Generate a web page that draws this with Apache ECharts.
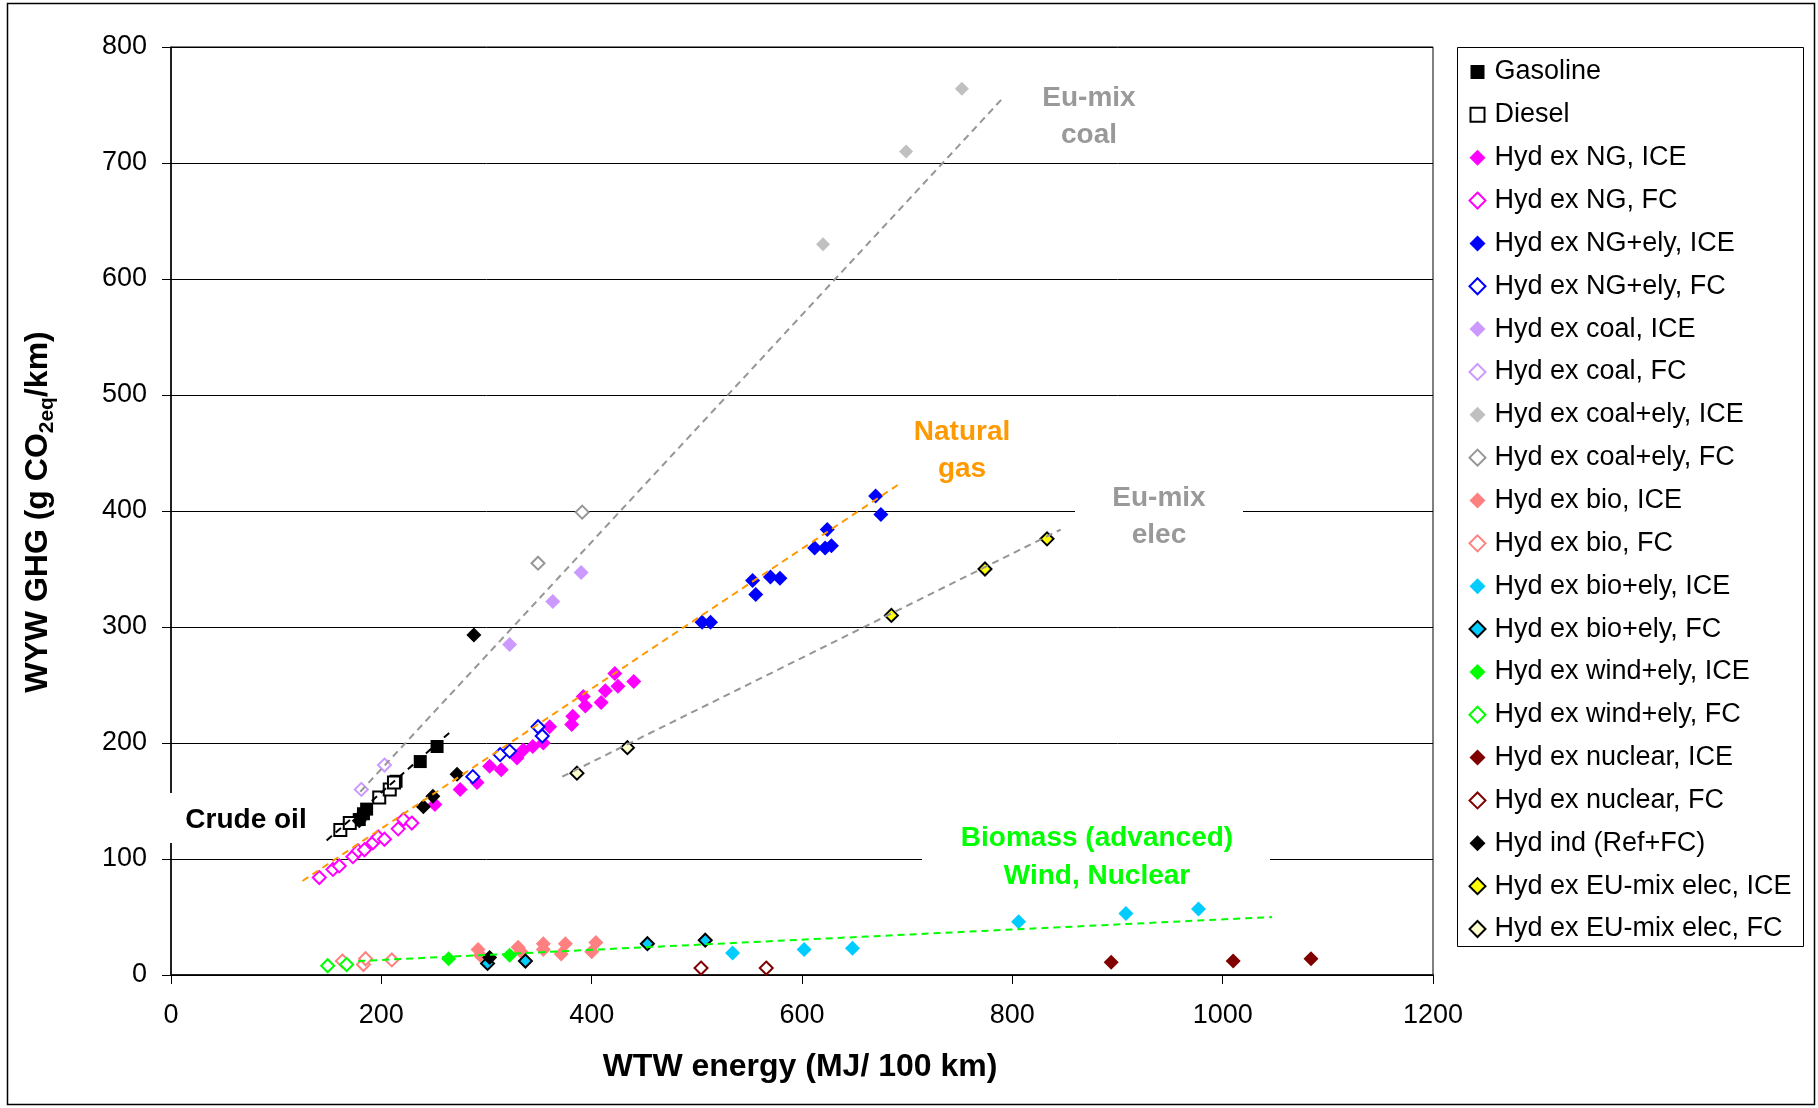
<!DOCTYPE html>
<html><head><meta charset="utf-8">
<script src="https://cdn.jsdelivr.net/npm/echarts@6/dist/echarts.min.js"></script>
<style>html,body{margin:0;padding:0;background:#fff}#c{width:1818px;height:1108px}</style>
</head><body><div id="c"></div>
<script>
// ---- data (x = WTW energy MJ/100km, y = GHG g CO2eq/km) ----
const gasoline   = [[253,197],[237,184],[214,167],[186,143],[183,139],[179,134]];
const diesel     = [[161,125],[170,131],[198,153],[208,160],[212,166]];
const ngIce      = [[251,147],[275,160],[291,166],[303,180],[314,177],[329,187],[335,194],[344,197],[354,200],[360,214],[381,216],[382,223],[394,232],[392,240],[409,235],[413,245],[422,260],[425,249],[440,253]];
const ngFc       = [[141,84],[154,91],[160,94],[173,102],[178,107],[184,108],[192,114],[197,119],[203,117],[216,126],[221,134],[229,131]];
const ngElyIce   = [[505,304],[513,304],[553,340],[556,328],[570,343],[579,342],[612,368],[622,368],[628,370],[624,384],[670,413],[675,397]];
const ngElyFc    = [[287,171],[313,190],[322,193],[349,214],[353,206]];
const coalIce    = [[322,285],[363,322],[390,347]];
const coalFc     = [[181,160],[203,181]];
const coalElyIce = [[620,630],[699,710],[752,764]];
const coalElyFc  = [[349,355],[391,399]];
const bioIce     = [[292,22],[294,17],[330,24],[333,20],[354,27],[354,22],[371,18],[375,27],[400,20],[404,28]];
const bioFc      = [[163,12],[183,9],[185,14],[210,13]];
const bioElyIce  = [[534,19],[602,22],[648,23],[806,46],[908,53],[977,57]];
const bioElyFc   = [[301,10],[337,12],[453,27],[508,30]];
const windIce    = [[264,14],[322,17]];
const windFc     = [[149,8],[167,9]];
const nuclearIce = [[894,11],[1010,12],[1084,14]];
const nuclearFc  = [[504,6],[566,6]];
const hydInd     = [[288,293],[272,173],[249,154],[240,145],[179,133],[303,15]];
const euIce      = [[685,310],[774,350],[833,376]];
const euFc       = [[386,174],[434,196]];

// trend lines (endpoints in data units)
const crudeLine = [[148,116],[265,209]];
const coalLine  = [[180,158],[792,757]];
const ngLine    = [[125,81],[692,423]];
const elecLine  = [[372,171],[846,384]];
const bioLine   = [[178,12],[1047,50]];

// axes
const xMin = 0, xMax = 1200, xStep = 200;
const yMin = 0, yMax = 800, yStep = 100;

// text
const xTitle = 'WTW energy (MJ/ 100 km)';
const yTitleMain1 = 'WYW GHG (g CO', yTitleSub = '2eq', yTitleMain2 = '/km)';
const annCrude = 'Crude oil';
const annCoal = 'Eu-mix\ncoal';
const annGas = 'Natural\ngas';
const annElec = 'Eu-mix\nelec';
const annBio = 'Biomass (advanced)\nWind, Nuclear';

const FONT = '"Liberation Sans", Arial, sans-serif';
// legend icon for squares: 14px square centred in a 16px box
const SQUARE_ICON = 'path://M0,0M16,16M1,1L15,1L15,15L1,15Z';

function sc(name, data, symbol, size, fill, border, bw) {
  return {
    type: 'scatter', name: name, data: data, symbol: symbol, symbolSize: size, z: 2,
    itemStyle: { color: fill, borderColor: border || fill, borderWidth: bw || 0, opacity: 1 },
    emphasis: { disabled: true }
  };
}
function tl(data, color) {
  return {
    type: 'line', data: data, symbol: 'none', silent: true, z: 3,
    lineStyle: { color: color, width: 2, type: [7, 5] }, emphasis: { disabled: true }
  };
}

const scatterSeries = [
  sc('Gasoline', gasoline, 'rect', 13, '#000000'),
  sc('Diesel', diesel, 'rect', 12, '#ffffff', '#000000', 2),
  sc('Hyd ex NG, ICE', ngIce, 'diamond', 15, '#ff00ff'),
  sc('Hyd ex NG, FC', ngFc, 'diamond', 13, '#ffffff', '#ff00ff', 2),
  sc('Hyd ex NG+ely, ICE', ngElyIce, 'diamond', 15, '#0000ff'),
  sc('Hyd ex NG+ely, FC', ngElyFc, 'diamond', 13, '#ffffff', '#0000ff', 2),
  sc('Hyd ex coal, ICE', coalIce, 'diamond', 15, '#cc99ff'),
  sc('Hyd ex coal, FC', coalFc, 'diamond', 13, '#ffffff', '#cc99ff', 2),
  sc('Hyd ex coal+ely, ICE', coalElyIce, 'diamond', 14, '#c0c0c0'),
  sc('Hyd ex coal+ely, FC', coalElyFc, 'diamond', 13, '#ffffff', '#969696', 2),
  sc('Hyd ex bio, ICE', bioIce, 'diamond', 15, '#ff8080'),
  sc('Hyd ex bio, FC', bioFc, 'diamond', 13, '#ffffff', '#ff8080', 2),
  sc('Hyd ex bio+ely, ICE', bioElyIce, 'diamond', 15, '#00ccff'),
  sc('Hyd ex bio+ely, FC', bioElyFc, 'diamond', 13, '#00ccff', '#000000', 2),
  sc('Hyd ex wind+ely, ICE', windIce, 'diamond', 15, '#00ff00'),
  sc('Hyd ex wind+ely, FC', windFc, 'diamond', 13, '#ffffff', '#00ff00', 2),
  sc('Hyd ex nuclear, ICE', nuclearIce, 'diamond', 15, '#800000'),
  sc('Hyd ex nuclear, FC', nuclearFc, 'diamond', 13, '#ffffff', '#800000', 2),
  sc('Hyd ind (Ref+FC)', hydInd, 'diamond', 15, '#000000'),
  sc('Hyd ex EU-mix elec, ICE', euIce, 'diamond', 13, '#ffff00', '#000000', 2),
  sc('Hyd ex EU-mix elec, FC', euFc, 'diamond', 13, '#ffffcc', '#000000', 2)
];
const lineSeries = [
  tl(crudeLine, '#000000'),
  tl(coalLine, '#969696'),
  tl(ngLine, '#ff9900'),
  tl(elecLine, '#969696'),
  tl(bioLine, '#00ff00')
];

const chart = echarts.init(document.getElementById('c'), null, { renderer: 'canvas' });

const annFont = { fontFamily: FONT, fontWeight: 'bold', fontSize: 28 };
function txt(x, y, text, color, lh) {
  return { type: 'text', x: x, y: y, z: 5, silent: true,
    style: Object.assign({ text: text, fill: color, align: 'center', verticalAlign: 'middle', lineHeight: lh || 37 }, annFont) };
}
function wrect(x, y, w, h) {
  return { type: 'rect', z: 1, silent: true, shape: { x: x, y: y, width: w, height: h }, style: { fill: '#ffffff' } };
}

const legendData = scatterSeries.map(s => (s.symbol === 'rect' ? { name: s.name, icon: SQUARE_ICON } : { name: s.name }));

chart.setOption({
  animation: false,
  backgroundColor: '#ffffff',
  grid: { left: 171, right: 385, top: 47, bottom: 133, show: true, borderColor: '#000', borderWidth: 1, containLabel: false },
  xAxis: {
    type: 'value', min: xMin, max: xMax, interval: xStep,
    axisLine: { show: true, lineStyle: { color: '#000', width: 1.5 } },
    axisTick: { show: true, inside: false, length: 9, lineStyle: { color: '#000', width: 1 } },
    axisLabel: { color: '#000', fontSize: 27, fontFamily: FONT, margin: 27, formatter: v => String(v) },
    splitLine: { show: false }
  },
  yAxis: {
    type: 'value', min: yMin, max: yMax, interval: yStep,
    axisLine: { show: true, lineStyle: { color: '#000', width: 1.5 } },
    axisTick: { show: true, inside: false, length: 9, lineStyle: { color: '#000', width: 1 } },
    axisLabel: { color: '#000', fontSize: 27, fontFamily: FONT, margin: 24, formatter: v => String(v) },
    splitLine: { show: true, lineStyle: { color: '#000', width: 1 } }
  },
  legend: {
    data: legendData,
    orient: 'vertical', left: 1457, top: 47,
    padding: [10, 10, 2, 11.5],
    itemWidth: 16, itemHeight: 16, itemGap: 12.85,
    selectedMode: false,
    textStyle: { color: '#000', fontSize: 27, fontFamily: FONT, lineHeight: 30, padding: [0, 0, 0, 4] }
  },
  graphic: [
    { type: 'rect', z: 0, silent: true, shape: { x: 7.5, y: 3.5, width: 1807, height: 1101 }, style: { fill: 'none', stroke: '#000', lineWidth: 1.5 } },
    { type: 'rect', z: 0, silent: true, shape: { x: 1457.5, y: 47.5, width: 346, height: 899 }, style: { fill: 'none', stroke: '#000', lineWidth: 1 } },
    wrect(160, 793, 158, 50),
    wrect(1075, 478, 168, 78),
    wrect(922, 820, 348, 76),
    txt(246, 820, annCrude, '#000000'),
    txt(1089, 117, annCoal, '#999999'),
    txt(962, 451, annGas, '#ff9900'),
    txt(1159, 517, annElec, '#999999'),
    txt(1097, 857.5, annBio, '#00ff00', 38),
    { type: 'text', x: 800, y: 1067, z: 5, silent: true,
      style: { text: xTitle, fill: '#000', align: 'center', verticalAlign: 'middle', fontFamily: FONT, fontWeight: 'bold', fontSize: 32 } },
    { type: 'text', x: 38, y: 512, rotation: Math.PI / 2, z: 5, silent: true,
      style: {
        text: '{a|' + yTitleMain1 + '}{b|' + yTitleSub + '}{a|' + yTitleMain2 + '}',
        align: 'center', verticalAlign: 'middle',
        rich: {
          a: { fontFamily: FONT, fontWeight: 'bold', fontSize: 32, lineHeight: 40, fill: '#000', verticalAlign: 'middle' },
          b: { fontFamily: FONT, fontWeight: 'bold', fontSize: 21, lineHeight: 20, fill: '#000', verticalAlign: 'bottom' }
        }
      } }
  ],
  series: scatterSeries.concat(lineSeries)
});
</script>
</body></html>
